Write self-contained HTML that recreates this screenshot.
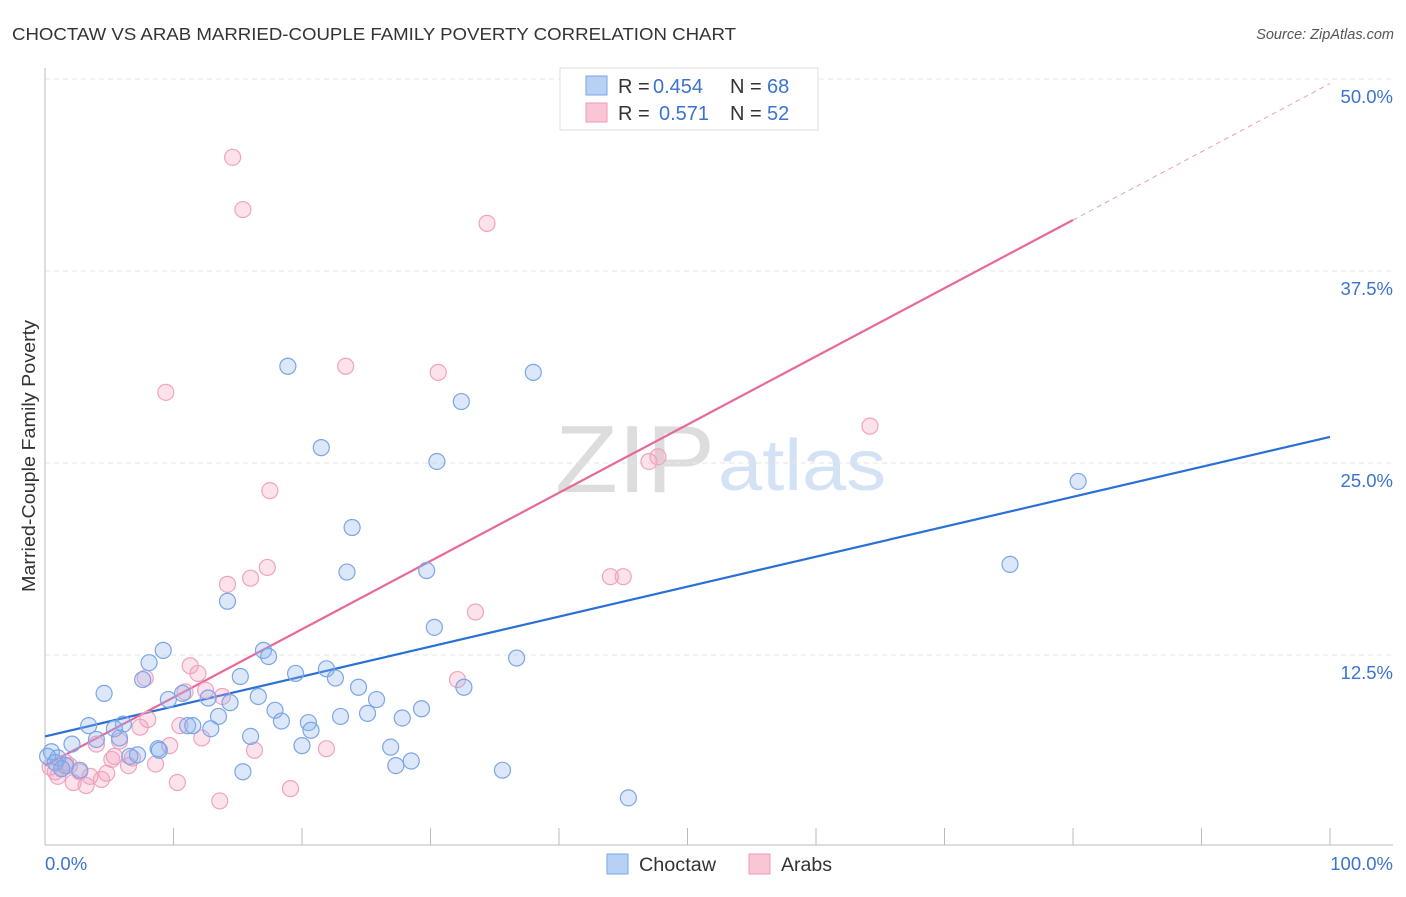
<!DOCTYPE html>
<html><head><meta charset="utf-8"><style>
body{margin:0;background:#fff;font-family:"Liberation Sans",sans-serif;}
svg text{font-family:"Liberation Sans",sans-serif;}
</style></head><body>
<svg id="chart" width="1406" height="892">
<text x="12" y="40" font-size="17.5" fill="#333" textLength="724" lengthAdjust="spacingAndGlyphs">CHOCTAW VS ARAB MARRIED-COUPLE FAMILY POVERTY CORRELATION CHART</text>
<text x="1394" y="39" font-size="14.5" fill="#555" font-style="italic" text-anchor="end">Source: ZipAtlas.com</text>
<text x="35" y="456" font-size="18" fill="#333" text-anchor="middle" textLength="272" lengthAdjust="spacingAndGlyphs" transform="rotate(-90 35 456)">Married-Couple Family Poverty</text>
<g><text x="555" y="492" font-size="96" fill="#ddd" font-family="Liberation Serif" textLength="160" lengthAdjust="spacingAndGlyphs">ZIP</text><text x="718" y="490" font-size="72" fill="#d3e2f5" textLength="168" lengthAdjust="spacingAndGlyphs">atlas</text></g>
<g id="grid"></g><g id="axes"></g><g id="lines"></g><g id="pts"></g>
<g>
<rect x="560" y="68" width="258" height="62" fill="#fff" stroke="#ddd"/>
<rect x="586" y="76" width="21" height="19" fill="#b7d1f5" stroke="#7aa6e6"/>
<rect x="586" y="103" width="21" height="19" fill="#f9c6d6" stroke="#ee9ab4"/>
<text x="618" y="93" font-size="20" fill="#333">R =</text>
<text x="653" y="93" font-size="20" fill="#3b73cf">0.454</text>
<text x="730" y="93" font-size="20" fill="#333">N =</text>
<text x="767" y="93" font-size="20" fill="#3b73cf">68</text>
<text x="618" y="120" font-size="20" fill="#333">R =</text>
<text x="659" y="120" font-size="20" fill="#3b73cf">0.571</text>
<text x="730" y="120" font-size="20" fill="#333">N =</text>
<text x="767" y="120" font-size="20" fill="#3b73cf">52</text>
</g>
<g>
<rect x="607" y="854" width="21" height="20" fill="#b7d1f5" stroke="#7aa6e6"/>
<text x="639" y="871" font-size="19" fill="#333" textLength="77" lengthAdjust="spacingAndGlyphs">Choctaw</text>
<rect x="749" y="854" width="21" height="20" fill="#f9c6d6" stroke="#ee9ab4"/>
<text x="781" y="871" font-size="19" fill="#333" textLength="51" lengthAdjust="spacingAndGlyphs">Arabs</text>
</g>
</svg>
<script>
const yTicks=[12.5,25,37.5,50];
const yTickLabels=["12.5%","25.0%","37.5%","50.0%"];
const xTickLabels=["0.0%","100.0%"];
const choctawX=[18.9,38.0,32.4,21.5,30.5,80.4,23.9,75.1,23.5,29.7,14.2,30.3,9.2,17.0,17.4,8.1,36.7,15.2,19.5,21.9,22.6,7.6,4.6,10.7,24.4,9.6,12.7,14.4,16.6,25.8,32.6,17.9,13.5,23.0,25.1,29.3,27.8,3.4,6.1,5.4,11.1,11.5,12.9,18.4,20.5,20.7,4.0,2.1,16.0,20.0,26.9,0.5,1.0,6.6,7.2,8.8,28.5,27.3,15.4,35.6,2.7,1.6,45.4,0.2,0.8,1.3,5.8,8.9];
const choctawY=[31.3,30.9,29.0,26.0,25.1,23.8,20.8,18.4,17.9,18.0,16.0,14.3,12.8,12.8,12.4,12.0,12.3,11.1,11.3,11.6,11.0,10.9,10.0,10.0,10.4,9.6,9.7,9.4,9.8,9.6,10.4,8.9,8.5,8.5,8.7,9.0,8.4,7.9,8.0,7.7,7.9,7.9,7.7,8.2,8.1,7.6,7.0,6.7,7.2,6.6,6.5,6.2,5.8,5.9,6.0,6.4,5.6,5.3,4.9,5.0,5.0,5.3,3.2,5.9,5.5,5.1,7.1,6.3];
const arabsX=[14.6,15.4,34.4,23.4,30.6,9.4,64.2,47.7,47.0,17.5,17.3,16.0,44.0,45.0,14.2,33.5,11.3,11.9,7.8,32.1,10.9,12.5,13.8,8.0,10.5,7.4,5.8,4.0,9.7,12.2,16.3,21.9,5.4,6.8,8.6,6.5,4.8,2.7,1.3,0.8,1.9,3.5,4.4,2.2,3.2,10.3,13.6,19.1,0.4,1.0,1.6,5.2];
const arabsY=[44.9,41.5,40.6,31.3,30.9,29.6,27.4,25.4,25.1,23.2,18.2,17.5,17.6,17.6,17.1,15.3,11.8,11.3,11.0,10.9,10.1,10.2,9.8,8.3,7.9,7.8,6.9,6.7,6.6,7.1,6.3,6.4,5.9,5.8,5.4,5.3,4.8,4.9,5.1,4.9,5.3,4.6,4.4,4.2,4.0,4.2,3.0,3.8,5.2,4.6,5.5,5.7];
const choctawLine=[7.2,26.7];
const arabsLine=[5.3,49.7];
const arabsSolidEnd=80;
const NS="http://www.w3.org/2000/svg";
const sx=v=>45+v*12.85, sy=v=>847-v*15.36;
function mk(tag,attrs,parent){const e=document.createElementNS(NS,tag);for(const k in attrs)e.setAttribute(k,attrs[k]);document.getElementById(parent).appendChild(e);return e;}
yTicks.forEach((t,i)=>{
 const g=mk('line',{x1:45,x2:1393,y1:sy(t),y2:sy(t),stroke:'#e6e6e6','stroke-dasharray':'5,4'},'grid');
 
 
 const l=mk('text',{x:1393,y:sy(t)+24,'font-size':18.5,fill:'#3b73cf','text-anchor':'end'},'grid');l.textContent=yTickLabels[i];
 
 
});
let a=mk('line',{x1:45,x2:45,y1:68,y2:845,stroke:'#bbb'},'axes');


a=mk('line',{x1:45,x2:1393,y1:845,y2:845,stroke:'#bbb'},'axes');


for(let i=0;i<=10;i++){const t=mk('line',{x1:sx(i*10),x2:sx(i*10),y1:828,y2:845,stroke:'#bbb'},'axes');
 
 }
[[0,'start',45],[100,'end',1393]].forEach((d,i)=>{const t=mk('text',{x:d[2],y:870,'font-size':18.5,fill:'#3b73cf','text-anchor':d[1]},'axes');t.textContent=xTickLabels[i];
 
 });
let ln=mk('line',{x1:sx(0),y1:sy(choctawLine[0]),x2:sx(100),y2:sy(choctawLine[1]),stroke:'#2a6fd6','stroke-width':2.2},'lines');


const ay=x=>arabsLine[0]+(arabsLine[1]-arabsLine[0])*x/100;
ln=mk('line',{x1:sx(0),y1:sy(ay(0)),x2:sx(arabsSolidEnd),y2:sy(ay(arabsSolidEnd)),stroke:'#e8689a','stroke-width':2.2},'lines');


ln=mk('line',{x1:sx(arabsSolidEnd),y1:sy(ay(arabsSolidEnd)),x2:sx(100),y2:sy(ay(100)),stroke:'#e8a0bb','stroke-width':1,'stroke-dasharray':'5,4'},'lines');


arabsX.forEach((x,i)=>{const c=mk('circle',{cx:sx(x),cy:sy(arabsY[i]),r:8,fill:'rgba(244,160,190,0.3)',stroke:'#f0a3bf','stroke-width':1.2},'pts');
 
 });
choctawX.forEach((x,i)=>{const c=mk('circle',{cx:sx(x),cy:sy(choctawY[i]),r:8,fill:'rgba(140,180,240,0.3)',stroke:'#7aa6e6','stroke-width':1.2},'pts');
 
 });
</script>
</body></html>
